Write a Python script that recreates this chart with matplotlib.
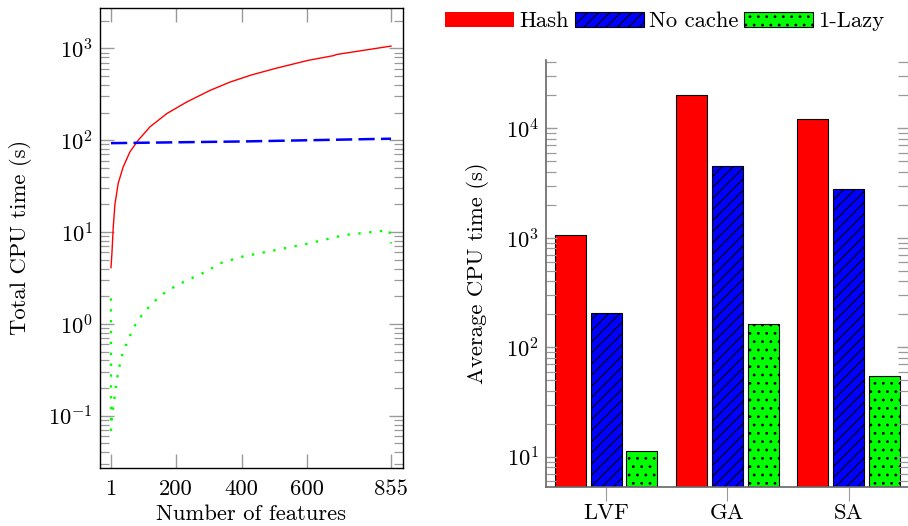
import matplotlib
matplotlib.use("Agg")
import matplotlib.pyplot as plt
import numpy as np
from matplotlib.ticker import LogLocator, NullFormatter, FixedLocator

plt.rcParams['font.family'] = 'cmr10'
plt.rcParams['mathtext.fontset'] = 'cm'
plt.rcParams['axes.formatter.use_mathtext'] = True
plt.rcParams['hatch.linewidth'] = 0.8
plt.rcParams['hatch.color'] = 'black'

# ---- left chart data ----
hash_x = [1, 4, 8, 13, 23, 38, 59, 84, 120, 171, 232, 303, 364, 430, 506, 602, 680, 690, 855]
hash_y = [4.1, 6, 11.4, 20, 34, 51, 75, 100, 140, 195, 261, 349, 430, 515, 610, 741, 835, 860, 1060]
nocache_x = [1, 200, 400, 600, 855]
nocache_y = [93, 95, 97, 100, 104]
lazy_x = [1, 1, 4, 10, 18, 27, 38, 54, 72, 96, 124, 156, 193, 232, 293, 333, 401, 506, 602, 714, 850, 855]
lazy_y = [1.9, 0.07, 0.097, 0.14, 0.24, 0.35, 0.5, 0.68, 0.94, 1.26, 1.64, 2.08, 2.52, 2.98, 3.74, 4.57, 5.4, 6.4, 7.5, 9.3, 10.5, 7.5]
left_xticks = [1, 200, 400, 600, 855]

# ---- right chart data ----
categories = ['LVF', 'GA', 'SA']
series_names = ['Hash', 'No cache', '1-Lazy']
bar_hash = [1060, 20100, 12200]
bar_nocache = [207, 4540, 2820]
bar_lazy = [11.3, 162, 54.6]

TICK_GREY = '#9a9a9a'
FS = 16.3

fig = plt.figure(figsize=(9.08, 5.26), dpi=100)

# Left axes
ax1 = fig.add_axes([100/908, 1-468/526, 303/908, (468-7.5)/526])
ax1.plot(hash_x, hash_y, color='red', lw=1.0)
ax1.plot(nocache_x, nocache_y, color='blue', lw=1.8, linestyle=(0, (6.5, 2.5)))
ax1.plot(lazy_x, lazy_y, color='#00ff00', lw=1.7, linestyle=(0, (1.0, 3.6)))
ax1.set_yscale('log')
ax1.set_xlim(-32.5, 891.6)
ax1.set_ylim(0.027, 2790)
ax1.xaxis.set_major_locator(FixedLocator(left_xticks))
ax1.set_xticklabels([str(v) for v in left_xticks])
ax1.yaxis.set_major_locator(LogLocator(base=10, numticks=20))
ax1.yaxis.set_minor_locator(LogLocator(base=10, subs=np.arange(2, 10), numticks=20))
ax1.yaxis.set_minor_formatter(NullFormatter())
ax1.tick_params(axis='both', which='both', direction='in', top=True, right=True,
                color=TICK_GREY, labelsize=FS)
ax1.tick_params(axis='both', which='major', length=10, width=1.0)
ax1.tick_params(axis='both', which='minor', length=6.5, width=0.9)
ax1.tick_params(axis='x', pad=8)
ax1.tick_params(axis='y', pad=5)
for s in ax1.spines.values():
    s.set_linewidth(1.0)
ax1.set_xlabel('Number of features', fontsize=FS, labelpad=4)
ax1.set_ylabel('Total CPU time (s)', fontsize=FS, labelpad=12)

# Right axes
ax2 = fig.add_axes([546/908, 1-487/526, 362/908, 427/526])
x = np.arange(len(categories))
w = 0.254
off = 0.295
b1 = ax2.bar(x - off, bar_hash, w, color='red', edgecolor='black', lw=0.8, label=series_names[0])
b2 = ax2.bar(x, bar_nocache, w, color='blue', edgecolor='black', lw=0.8, hatch='///', label=series_names[1])
b3 = ax2.bar(x + off, bar_lazy, w, color='#00ff00', edgecolor='black', lw=0.8, hatch='..', label=series_names[2])
ax2.set_yscale('log')
ax2.set_xlim(-0.496, 2.49)
ax2.set_ylim(5.3, 42100)
ax2.set_xticks(x)
ax2.set_xticklabels(categories)
ax2.yaxis.set_major_locator(LogLocator(base=10, numticks=20))
ax2.yaxis.set_minor_locator(LogLocator(base=10, subs=np.arange(2, 10), numticks=20))
ax2.yaxis.set_minor_formatter(NullFormatter())
ax2.spines['top'].set_visible(False)
ax2.spines['right'].set_visible(False)
ax2.spines['left'].set_color('#666666')
ax2.spines['bottom'].set_color('#666666')
ax2.spines['left'].set_linewidth(1.2)
ax2.spines['bottom'].set_linewidth(1.2)
ax2.tick_params(axis='y', which='both', direction='in', right=True, color=TICK_GREY, labelsize=FS, pad=5)
ax2.tick_params(axis='y', which='major', length=8, width=1.0)
ax2.tick_params(axis='y', which='minor', length=7, width=0.9)
ax2.tick_params(axis='x', which='both', direction='out', length=10, color=TICK_GREY, labelsize=FS, pad=2)
ax2.set_ylabel('Average CPU time (s)', fontsize=FS, labelpad=12)

# Legend
handles = [b1, b2, b3]
leg = fig.legend(handles, series_names, loc='center left', bbox_to_anchor=(445/908, 1-21.5/526),
                 ncol=3, frameon=False, fontsize=FS, handlelength=3.05, handleheight=0.68,
                 handletextpad=0.22, columnspacing=0.27, borderpad=0, borderaxespad=0)
leg.legend_handles[0].set_edgecolor('none')

fig.savefig('out.png', dpi=100)
